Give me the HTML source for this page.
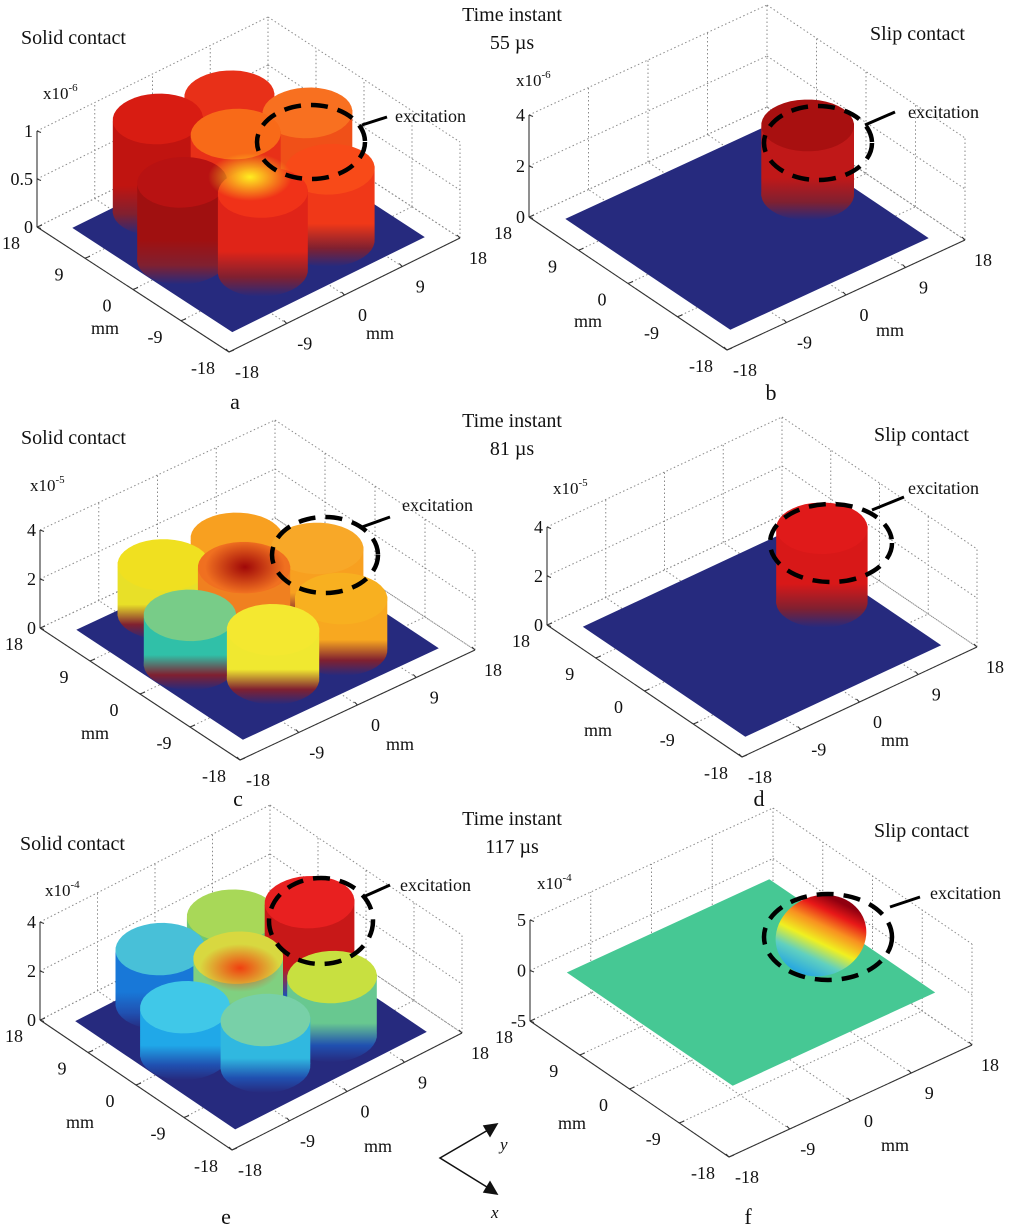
<!DOCTYPE html>
<html><head><meta charset="utf-8">
<style>
html,body{margin:0;padding:0;background:#fff;}
svg{display:block;font-family:"Liberation Serif",serif;}
</style></head>
<body>
<svg id="fig" width="1024" height="1232" viewBox="0 0 1024 1232" xmlns="http://www.w3.org/2000/svg">
<defs id="defs"></defs>
<rect width="1024" height="1232" fill="#fff"/>
<g id="layer"></g>
<g font-size="20" fill="#111">
<text x="512" y="21" text-anchor="middle">Time instant</text>
<text x="512" y="49" text-anchor="middle">55 µs</text>
<text x="512" y="427" text-anchor="middle">Time instant</text>
<text x="512" y="455" text-anchor="middle">81 µs</text>
<text x="512" y="825" text-anchor="middle">Time instant</text>
<text x="512" y="853" text-anchor="middle">117 µs</text>
<text x="21" y="44">Solid contact</text>
<text x="21" y="444">Solid contact</text>
<text x="20" y="850">Solid contact</text>
<text x="870" y="40">Slip contact</text>
<text x="874" y="441">Slip contact</text>
<text x="874" y="837">Slip contact</text>
</g>
<g font-size="22" fill="#111" text-anchor="middle">
<text x="235" y="409">a</text>
<text x="771" y="400">b</text>
<text x="238" y="806">c</text>
<text x="759" y="806">d</text>
<text x="226" y="1224">e</text>
<text x="748" y="1224">f</text>
</g>
<g stroke="#111" stroke-width="1.5" fill="none">
<polyline points="495,1126 440,1158 495,1192"/>
<polygon points="497,1124 484,1126 490,1136" fill="#111"/>
<polygon points="497,1194 484,1192 490,1182" fill="#111"/>
</g>
<text x="500" y="1150" font-size="17" font-style="italic" fill="#111">y</text>
<text x="491" y="1218" font-size="17" font-style="italic" fill="#111">x</text>
</svg>
<script>
// ---- data ----
const mmTicks = [-18, -9, 0, 9, 18];
const mmTickLabels = ['-18', '-9', '0', '9', '18'];
const zTicks01 = [0, 0.5, 1];
const zTickLabels01 = ['0', '0.5', '1'];
const zTicks04 = [0, 2, 4];
const zTickLabels04 = ['0', '2', '4'];
const zTicks55 = [-5, 0, 5];
const zTickLabels55 = ['-5', '0', '5'];
const sensorNames = ['excitation', 'back', 'left', 'front-left', 'front-right', 'right', 'center'];
const sensorU = [1, 9, 11, 1, -7.5, -8, 3];
const sensorV = [10, 4.5, -5, -9.5, -4, 6, 0.5];
const heightsA = [0.88, 0.95, 0.95, 0.8, 0.82, 0.75, 0.9];
const topColorsA = ['#f87020', '#e83018', '#d81c12', '#b81212', '#f03218', '#f84a18', '#f86a18'];
const sideColorsA = ['#f05018', '#d82014', '#c01410', '#a01010', '#e02418', '#f03818', '#e83018'];
const heightsB = [2.7];
const topColorsB = ['#a81010'];
const sideColorsB = ['#c01818'];
const heightsC = [2.3, 2.2, 2.0, 2.0, 2.0, 2.1, 2.4];
const topColorsC = ['#f8a828', '#f8a020', '#f0e020', '#78cc88', '#f4e830', '#f8b020', '#f07020'];
const sideColorsC = ['#f8a020', '#f89820', '#e8e028', '#30c0a8', '#f0e830', '#f8a820', '#f08020'];
const heightsD = [3.0];
const topColorsD = ['#e01a1a'];
const sideColorsD = ['#d81818'];
const heightsE = [3.6, 2.6, 2.2, 1.9, 1.9, 2.4, 2.3];
const topColorsE = ['#e82020', '#a8d858', '#48c0d8', '#40c8e8', '#78d0a8', '#c8e040', '#d8d840'];
const sideColorsE = ['#c81818', '#70c870', '#1878d8', '#20a8e8', '#30b8e0', '#68c890', '#80d080'];
const heightsF = [0];

// ---- geometry (layout, not data) ----
const panels = [
 {id:'a', F:[229,352], L:[37,227], R:[460,238], zTop:131, zBot:227, zmin:0, zmax:1, zt:zTicks01, ztl:zTickLabels01, h:heightsA, top:topColorsA, side:sideColorsA, idx:[0,1,2,3,4,5,6], plane:'#262a7e', exp:'-6', expPos:[43,99], ell:[311,142,54,37], lead:[362,125,387,117], exTxt:[395,122], mmL:[105,334], mmR:[380,339], hot:[250,177,42,24,'#ffee20']},
 {id:'b', F:[727,350], L:[529,217], R:[965,240], zTop:115, zBot:217, zmin:0, zmax:4, zt:zTicks04, ztl:zTickLabels04, h:heightsB, top:topColorsB, side:sideColorsB, idx:[0], plane:'#262a7e', exp:'-6', expPos:[516,86], ell:[818,143,54,37], lead:[865,125,895,112], exTxt:[908,118], mmL:[588,327], mmR:[890,336]},
 {id:'c', F:[240,760], L:[40,628], R:[475,650], zTop:530, zBot:628, zmin:0, zmax:4, zt:zTicks04, ztl:zTickLabels04, h:heightsC, top:topColorsC, side:sideColorsC, idx:[0,1,2,3,4,5,6], plane:'#262a7e', exp:'-5', expPos:[30,491], ell:[325,555,53,38], lead:[362,527,390,517], exTxt:[402,511], mmL:[95,739], mmR:[400,750], hot:[245,567,40,26,'#a00808']},
 {id:'d', F:[742,757], L:[547,625], R:[977,647], zTop:527, zBot:625, zmin:0, zmax:4, zt:zTicks04, ztl:zTickLabels04, h:heightsD, top:topColorsD, side:sideColorsD, idx:[0], plane:'#262a7e', exp:'-5', expPos:[553,494], ell:[831,543,61,39], lead:[872,510,904,497], exTxt:[908,494], mmL:[598,736], mmR:[895,746]},
 {id:'e', F:[232,1150], L:[40,1020], R:[462,1033], zTop:922, zBot:1020, zmin:0, zmax:4, zt:zTicks04, ztl:zTickLabels04, h:heightsE, top:topColorsE, side:sideColorsE, idx:[0,1,2,3,4,5,6], plane:'#262a7e', exp:'-4', expPos:[45,896], ell:[321,921,52,43], lead:[363,897,390,885], exTxt:[400,891], mmL:[80,1128], mmR:[378,1152], hot:[240,968,40,24,'#f04010']},
 {id:'f', F:[729,1157], L:[530,1021], R:[972,1045], zTop:920, zBot:1021, zmin:-5, zmax:5, zt:zTicks55, ztl:zTickLabels55, h:heightsF, top:[], side:[], idx:[], plane:'#46c894', exp:'-4', expPos:[537,889], ell:[828,937,64,43], lead:[890,907,920,897], exTxt:[930,899], mmL:[572,1129], mmR:[895,1151], disc:true}
];

const NS = 'http://www.w3.org/2000/svg';
const layer = document.getElementById('layer');
const defs = document.getElementById('defs');
function mk(tag, attrs, parent){
  const el = document.createElementNS(NS, tag);
  for (const k in attrs) el.setAttribute(k, attrs[k]);
  (parent||layer).appendChild(el);
  return el;
}
function proj(g,u,v,z){
  const a=(u+18)/36, b=(v+18)/36;
  const x=g.F[0]+a*(g.L[0]-g.F[0])+b*(g.R[0]-g.F[0]);
  const y=g.F[1]+a*(g.L[1]-g.F[1])+b*(g.R[1]-g.F[1])-(z-g.zmin)/(g.zmax-g.zmin)*(g.zBot-g.zTop);
  return [x,y];
}
function pts(arr){return arr.map(p=>p[0].toFixed(1)+','+p[1].toFixed(1)).join(' ');}
const DOT = {stroke:'#8a8a8a','stroke-width':1,'stroke-dasharray':'1.5 2.5',fill:'none'};

panels.forEach(g=>{
  const grp = mk('g',{});
  
  
  const zr = g.zBot-g.zTop;
  const gridG = mk('g', DOT, grp);
  
  
  const line = (p,q)=>mk('line',{x1:p[0],y1:p[1],x2:q[0],y2:q[1]},gridG);
  mmTicks.forEach(t=>{
    const p = proj(g,18,t,g.zmin); line(p,[p[0],p[1]-zr]);
    const q = proj(g,t,18,g.zmin); line(q,[q[0],q[1]-zr]);
    line(proj(g,-18,t,g.zmin),proj(g,18,t,g.zmin));
    line(proj(g,t,-18,g.zmin),proj(g,t,18,g.zmin));
  });
  g.zt.forEach(z=>{
    line(proj(g,18,-18,z),proj(g,18,18,z));
    line(proj(g,18,18,z),proj(g,-18,18,z));
  });
  const planeZ = g.disc ? 0 : g.zmin;
  const plane = mk('polygon',{points:pts([proj(g,-15,-15,planeZ),proj(g,15,-15,planeZ),proj(g,15,15,planeZ),proj(g,-15,15,planeZ)]),fill:g.plane},grp);
  
  
  const order = g.idx.slice().sort((i,j)=>proj(g,sensorU[i],sensorV[i],0)[1]-proj(g,sensorU[j],sensorV[j],0)[1]);
  const r = 5.4;
  order.forEach((i)=>{
    const hi = g.idx.indexOf(i);
    const hgt = g.h[hi];
    const bot=[], top=[];
    for(let s=0;s<40;s++){
      const an = s/40*Math.PI*2;
      const u = sensorU[i]+r*Math.cos(an), v = sensorV[i]+r*Math.sin(an);
      bot.push(proj(g,u,v,g.zmin)); top.push(proj(g,u,v,hgt));
    }
    let li=0, ri=0;
    bot.forEach((p,s)=>{ if(p[0]<bot[li][0]) li=s; if(p[0]>bot[ri][0]) ri=s; });
    const maxBot = Math.max(...bot.map(p=>p[1]));
    const minTop = Math.min(...top.map(p=>p[1]));
    const gid = 'grad-'+g.id+'-'+i;
    const lg = mk('linearGradient',{id:gid,gradientUnits:'userSpaceOnUse',x1:0,y1:minTop,x2:0,y2:maxBot},defs);
    mk('stop',{offset:'0',  'stop-color':g.side[hi]},lg);
    mk('stop',{offset:'0.65','stop-color':g.side[hi]},lg);
    mk('stop',{offset:'0.85','stop-color':g.id==='e'?'#2050b0':'#802030'},lg);
    mk('stop',{offset:'1','stop-color':'#262a7e'},lg);
    const cg = mk('g',{},grp);
    
    
    const side = mk('polygon',{points:pts([top[li],top[ri],bot[ri],bot[li]]),fill:'url(#'+gid+')'},cg);
    
    
    const be = mk('polygon',{points:pts(bot),fill:'url(#'+gid+')'},cg);
    
    
    const te = mk('polygon',{points:pts(top),fill:g.top[hi]},cg);
    
    
  });
  if(g.hot){
    const rid='hot-'+g.id;
    const rg = mk('radialGradient',{id:rid},defs);
    mk('stop',{offset:'0','stop-color':g.hot[4],'stop-opacity':1},rg);
    mk('stop',{offset:'1','stop-color':g.hot[4],'stop-opacity':0},rg);
    const h = mk('ellipse',{cx:g.hot[0],cy:g.hot[1],rx:g.hot[2],ry:g.hot[3],fill:'url(#'+rid+')'},grp);
    
    
  }
  if(g.disc){
    const c = proj(g,sensorU[0],sensorV[0],0);
    const dg = mk('linearGradient',{id:'disc-f',gradientUnits:'userSpaceOnUse',x1:c[0]-32,y1:c[1]+36,x2:c[0]+40,y2:c[1]-34},defs);
    [['0','#0a3aa8'],['0.2','#28a8e0'],['0.38','#60d0c0'],['0.55','#f0f020'],['0.72','#f89020'],['0.87','#e81818'],['1','#900010']].forEach(s=>mk('stop',{offset:s[0],'stop-color':s[1]},dg));
    const d = mk('ellipse',{cx:c[0]+8,cy:c[1]-12,rx:46,ry:40,fill:'url(#disc-f)',transform:'rotate(-20 '+(c[0]+8)+' '+(c[1]-12)+')'},grp);
    
    
  }
  const ax = mk('g',{stroke:'#333','stroke-width':1.1,fill:'none'},grp);
  
  
  mk('line',{x1:g.L[0],y1:g.L[1],x2:g.F[0],y2:g.F[1]},ax);
  mk('line',{x1:g.F[0],y1:g.F[1],x2:g.R[0],y2:g.R[1]},ax);
  mk('line',{x1:g.L[0],y1:g.zBot,x2:g.L[0],y2:g.zTop},ax);
  const tl = mk('g',{'font-size':18,fill:'#111','text-anchor':'middle'},grp);
  
  
  mmTicks.forEach((t,k)=>{
    const p = proj(g,t,-18,g.zmin);
    mk('line',{x1:p[0],y1:p[1],x2:p[0]+5,y2:p[1]-2,stroke:'#333'},ax);
    const tx = mk('text',{x:p[0]-26,y:p[1]+22},tl);
    
    
    tx.textContent = mmTickLabels[k];
    const q = proj(g,-18,t,g.zmin);
    mk('line',{x1:q[0],y1:q[1],x2:q[0]-3,y2:q[1]-3,stroke:'#333'},ax);
    const tq = mk('text',{x:q[0]+18,y:q[1]+26},tl);
    
    
    tq.textContent = mmTickLabels[k];
  });
  g.zt.forEach((z,k)=>{
    const y = g.zBot-(z-g.zmin)/(g.zmax-g.zmin)*zr;
    mk('line',{x1:g.L[0],y1:y,x2:g.L[0]+4,y2:y+1.5},ax);
    const tz = mk('text',{x:g.L[0]-4,y:y+6,'text-anchor':'end'},tl);
    
    
    tz.textContent = g.ztl[k];
  });
  const ex = mk('text',{x:g.expPos[0],y:g.expPos[1],'font-size':17,fill:'#111'},grp);
  
  
  ex.textContent = 'x10';
  const sup = mk('tspan',{dy:-8,'font-size':11},ex);
  sup.textContent = g.exp;
  const m1 = mk('text',{x:g.mmL[0],y:g.mmL[1],'font-size':18,fill:'#111','text-anchor':'middle'},grp);
  
  
  m1.textContent = 'mm';
  const m2 = mk('text',{x:g.mmR[0],y:g.mmR[1],'font-size':18,fill:'#111','text-anchor':'middle'},grp);
  
  
  m2.textContent = 'mm';
  const el = mk('ellipse',{cx:g.ell[0],cy:g.ell[1],rx:g.ell[2],ry:g.ell[3],fill:'none',stroke:'#000','stroke-width':4.5,'stroke-dasharray':'17 10'},grp);
  
  
  const ld = mk('line',{x1:g.lead[0],y1:g.lead[1],x2:g.lead[2],y2:g.lead[3],stroke:'#000','stroke-width':3},grp);
  
  
  const et = mk('text',{x:g.exTxt[0],y:g.exTxt[1],'font-size':18,fill:'#111'},grp);
  
  
  et.textContent = 'excitation';
});
</script>
</body></html>
